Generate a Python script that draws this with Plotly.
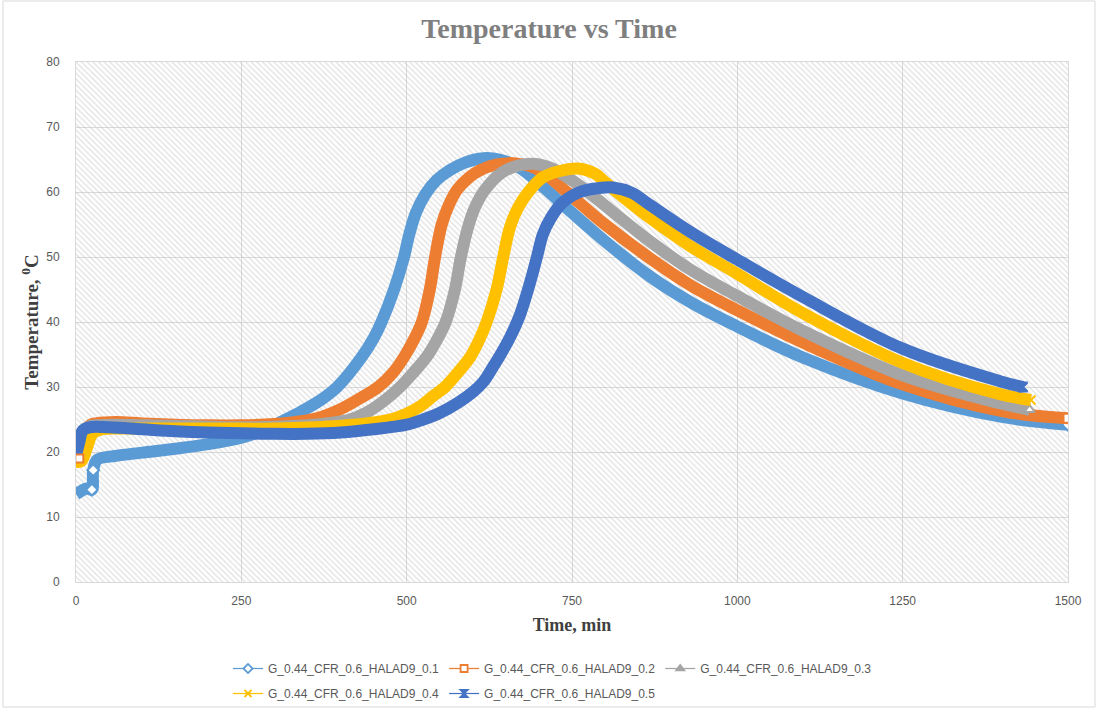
import plotly.graph_objects as go

# ---------------- data ----------------
series_names = [
    "G_0.44_CFR_0.6_HALAD9_0.1",
    "G_0.44_CFR_0.6_HALAD9_0.2",
    "G_0.44_CFR_0.6_HALAD9_0.3",
    "G_0.44_CFR_0.6_HALAD9_0.4",
    "G_0.44_CFR_0.6_HALAD9_0.5",
]

time_1 = [0, 8, 16, 24, 26, 32, 60, 100, 150, 200, 250, 280, 313, 340, 370, 395, 432, 450, 462, 481,
          496, 504, 514, 528, 545, 566, 590, 616, 640, 670, 706, 750, 800, 868, 930, 1000,
          1100, 1250, 1400, 1500]
temp_1 = [13.5, 14.0, 14.4, 14.2, 17.2, 18.8, 19.4, 19.9, 20.5, 21.2, 22.2, 23.2, 24.8, 26.2, 28.0, 30.0, 34.6, 37.5, 40.0, 45.0,
          50.0, 53.5, 56.8, 59.6, 61.8, 63.4, 64.6, 65.2, 65.0, 63.8, 60.8, 56.8, 52.4, 47.0, 43.0, 39.3,
          34.5, 29.0, 25.4, 24.2]

time_2 = [0, 5, 10, 15, 22, 30, 60, 100, 150, 200, 250, 300, 330, 364, 400, 430, 457, 480, 496, 512,
          523, 535, 543, 553, 563, 576, 595, 610, 635, 665, 700, 742, 800, 868, 930, 1000, 1100, 1250,
          1400, 1500]
temp_2 = [18.8, 19.0, 21.5, 23.5, 24.2, 24.4, 24.6, 24.4, 24.2, 24.1, 24.1, 24.3, 24.6, 25.2, 26.6, 28.3, 30.0, 32.3, 34.6, 37.5,
          40.0, 45.0, 50.0, 55.0, 57.8, 60.3, 62.3, 63.3, 64.2, 64.4, 63.4, 60.0, 55.0, 49.8, 45.6, 41.8, 36.8, 30.4,
          26.3, 25.2]

time_3 = [0, 5, 10, 15, 22, 30, 60, 100, 150, 200, 250, 300, 360, 414, 440, 465, 490, 510, 530, 546,
          559, 573, 582, 594, 604, 618, 644, 670, 695, 720, 750, 782, 800, 868, 930, 1000, 1100, 1250,
          1397, 1442]
temp_3 = [19.0, 19.5, 22.0, 23.6, 24.0, 24.1, 24.2, 24.1, 24.0, 23.9, 23.8, 23.9, 24.2, 25.0, 26.1, 27.8, 30.0, 32.2, 34.6, 37.3,
          40.0, 45.0, 50.0, 55.0, 57.8, 60.3, 63.0, 64.1, 64.3, 63.6, 61.8, 59.4, 57.9, 52.4, 48.0, 44.0, 38.6, 31.8,
          27.5, 26.5]

time_4 = [0, 8, 16, 25, 40, 80, 150, 200, 250, 300, 360, 420, 475, 500, 520, 540, 558, 578, 596, 610,
          621, 636, 646, 656, 668, 684, 705, 730, 760, 785, 800, 868, 930, 1000, 1100, 1250, 1397, 1444]
temp_4 = [18.5, 18.6, 20.5, 22.8, 23.5, 23.6, 23.6, 23.6, 23.6, 23.6, 23.8, 24.2, 25.0, 25.9, 27.0, 28.6, 30.0, 32.3, 34.6, 37.3,
          40.0, 45.0, 50.0, 54.5, 57.5, 60.0, 62.2, 63.2, 63.6, 62.8, 61.5, 56.0, 51.6, 47.4, 41.3, 33.7, 28.9, 28.0]

time_5 = [0, 5, 10, 20, 50, 100, 150, 200, 250, 300, 350, 400, 450, 500, 525, 550, 578, 600, 616, 630,
          642, 657, 671, 685, 697, 706, 718, 735, 762, 790, 812, 840, 868, 930, 1000, 1100, 1250, 1397, 1432]
temp_5 = [19.5, 21.5, 23.3, 23.8, 23.8, 23.5, 23.2, 23.0, 22.9, 22.8, 22.8, 23.0, 23.5, 24.2, 25.0, 26.0, 27.6, 29.2, 30.8, 33.0,
          35.0, 37.8, 41.0, 45.5, 50.0, 53.5, 56.0, 58.3, 60.0, 60.6, 60.7, 59.9, 58.0, 53.8, 49.6, 43.8, 35.9, 30.9, 30.0]

x_ticks = [0, 250, 500, 750, 1000, 1250, 1500]
y_ticks = [0, 10, 20, 30, 40, 50, 60, 70, 80]

times = [time_1, time_2, time_3, time_4, time_5]
temps = [temp_1, temp_2, temp_3, temp_4, temp_5]

# ---------------- styles ----------------
colors = ["#5b9bd5", "#ed7d31", "#a5a5a5", "#ffc000", "#4472c4"]
legend_symbols = ["diamond", "square", "triangle-up", "x-thin", "hourglass"]
legend_fill = ["white", "white", "#a5a5a5", "#ffc000", "#4472c4"]
end_symbols = ["diamond", "square", "triangle-up", "x-thin", "hourglass"]
end_fill = ["white", "white", "white", "#ffc000", "#4472c4"]

X_RANGE = [0, 1500]
Y_RANGE = [0, 80]

fig = go.Figure()

# hatched plot-area background
fig.add_trace(go.Scatter(
    x=[X_RANGE[0], X_RANGE[1], X_RANGE[1], X_RANGE[0], X_RANGE[0]],
    y=[Y_RANGE[0], Y_RANGE[0], Y_RANGE[1], Y_RANGE[1], Y_RANGE[0]],
    mode="lines", line=dict(width=0, color="rgba(0,0,0,0)"),
    fill="toself", fillcolor="rgba(0,0,0,0)",
    fillpattern=dict(shape="\\", size=4, solidity=0.33, fgcolor="#c4c4c4",
                     bgcolor="rgba(0,0,0,0)"),
    hoverinfo="skip", showlegend=False,
))

for i in range(5):
    fig.add_trace(go.Scatter(
        x=times[i], y=temps[i], mode="lines",
        line=dict(color=colors[i], width=12, shape="spline", smoothing=1.0),
        name=series_names[i], showlegend=False,
    ))
    # marker at the last recorded point
    fig.add_trace(go.Scatter(
        x=[times[i][-1]], y=[temps[i][-1]], mode="markers",
        marker=dict(symbol=end_symbols[i], size=9, color=end_fill[i],
                    line=dict(color=colors[i], width=2)),
        showlegend=False, hoverinfo="skip",
    ))

# start markers visible on the first two series
fig.add_trace(go.Scatter(
    x=[time_1[3], time_1[4]], y=[temp_1[3], temp_1[4]], mode="markers",
    marker=dict(symbol="diamond", size=9, color="white", line=dict(color=colors[0], width=2)),
    showlegend=False, hoverinfo="skip"))
fig.add_trace(go.Scatter(
    x=[time_2[1]], y=[temp_2[1]], mode="markers",
    marker=dict(symbol="square", size=8, color="white", line=dict(color=colors[1], width=2)),
    showlegend=False, hoverinfo="skip"))

# legend entries (two rows)
for i in range(5):
    fig.add_trace(go.Scatter(
        x=[None], y=[None], mode="lines+markers", name=series_names[i],
        line=dict(color=colors[i], width=1.25),
        marker=dict(symbol=legend_symbols[i], size=7, color=legend_fill[i],
                    line=dict(color=colors[i], width=1.8)),
        legend="legend" if i < 3 else "legend2",
    ))

grid_col = "#d9d9d9"
tick_font = dict(family="Liberation Sans, Arial", size=12, color="#595959")
serif = "Liberation Serif, Times New Roman"

def px_x(p):
    return (p - 76) / 992.0

def px_y(p):
    return (582 - p) / 520.0

fig.update_layout(
    width=1098, height=713,
    margin=dict(l=76, r=30, t=62, b=131, autoexpand=False),
    paper_bgcolor="white", plot_bgcolor="white",
    title=dict(text="<b>Temperature vs Time</b>", x=0.5, xanchor="center",
               y=1 - 28 / 713, yanchor="middle",
               font=dict(family=serif, size=28, color="#7f7f7f")),
    xaxis=dict(range=X_RANGE, tickvals=x_ticks, showgrid=True, gridcolor=grid_col, gridwidth=1,
               zeroline=False, showline=True, linecolor=grid_col, mirror=True, ticks="",
               tickfont=tick_font, ticklabelstandoff=8,
               title=dict(text="<b>Time, min</b>", standoff=10,
                          font=dict(family=serif, size=18, color="#404040"))),
    yaxis=dict(range=Y_RANGE, tickvals=y_ticks, showgrid=True, gridcolor=grid_col, gridwidth=1,
               zeroline=False, showline=True, linecolor=grid_col, mirror=True, ticks="",
               tickfont=tick_font, ticklabelstandoff=13,
               title=dict(text="<b>Temperature, <sup>0</sup>C</b>", standoff=2,
                          font=dict(family=serif, size=19, color="#404040"))),
    legend=dict(orientation="h", x=px_x(228), y=px_y(654), xanchor="left", yanchor="top",
                font=dict(family="Liberation Sans, Arial", size=12, color="#595959"),
                bgcolor="rgba(0,0,0,0)", itemclick=False),
    legend2=dict(orientation="h", x=px_x(228), y=px_y(679), xanchor="left", yanchor="top",
                 font=dict(family="Liberation Sans, Arial", size=12, color="#595959"),
                 bgcolor="rgba(0,0,0,0)", itemclick=False),
    shapes=[dict(type="rect", xref="paper", yref="paper",
                 x0=px_x(3), x1=px_x(1095), y0=px_y(707), y1=px_y(1),
                 line=dict(color="#d9d9d9", width=1), fillcolor="rgba(0,0,0,0)", layer="below")],
    showlegend=True,
)

fig.write_html("out.html", config={"displayModeBar": False},
               post_script="document.body.style.margin='0';document.body.style.overflow='hidden';")
